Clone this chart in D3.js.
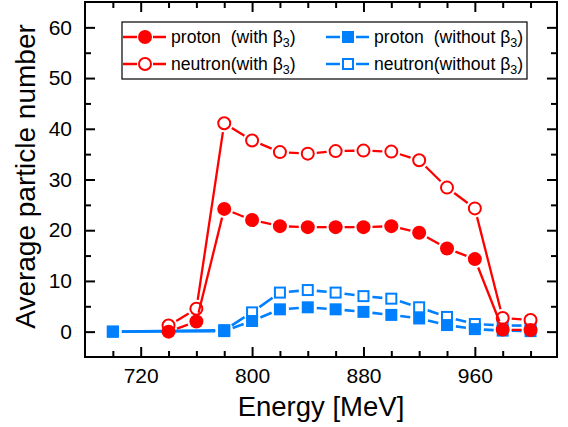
<!DOCTYPE html>
<html><head><meta charset="utf-8">
<script src="https://cdn.jsdelivr.net/npm/d3@7"></script>
<style>
body{margin:0;background:#fff}
svg{display:block}
text{font-family:"Liberation Sans",Arial,sans-serif;fill:#000}
</style>
</head><body>
<svg id="chart" width="568" height="427"></svg>
<script>
// ---- data ----
const energyWith = [740, 760, 780, 800, 820, 840, 860, 880, 900, 920, 940, 960, 980, 1000];
const protonWith = [0.0, 2.0, 24.2, 22.0, 20.8, 20.6, 20.6, 20.6, 20.8, 19.5, 16.4, 14.3, 0.4, 0.3];
const neutronWith = [1.2, 4.5, 41.1, 37.7, 35.4, 35.1, 35.6, 35.7, 35.5, 33.8, 28.4, 24.3, 2.7, 2.3];
const energyWithout = [700, 780, 800, 820, 840, 860, 880, 900, 920, 940, 960, 980, 1000];
const protonWithout = [0.0, 0.1, 2.1, 4.4, 4.8, 4.4, 3.9, 3.3, 2.6, 1.3, 0.5, 0.2, 0.1];
const neutronWithout = [0.0, 0.3, 3.8, 7.7, 8.2, 7.7, 7.0, 6.5, 4.8, 2.9, 1.5, 1.2, 1.2];

const xMajorTicks = [720, 800, 880, 960];
const xMinorTicks = [700, 740, 760, 780, 820, 840, 860, 900, 920, 940, 980, 1000];
const yMajorTicks = [0, 10, 20, 30, 40, 50, 60];
const yMinorTicks = [5, 15, 25, 35, 45, 55];

const xLabel = "Energy [MeV]";
const yLabel = "Average particle number";

const RED = "#ff0000", BLUE = "#0080ff";

const series = [
  {name: "neutron(without ", x: energyWithout, y: neutronWithout, color: BLUE, shape: "square", filled: false},
  {name: "proton  (without ", x: energyWithout, y: protonWithout, color: BLUE, shape: "square", filled: true},
  {name: "neutron(with ", x: energyWith, y: neutronWith, color: RED, shape: "circle", filled: false},
  {name: "proton  (with ", x: energyWith, y: protonWith, color: RED, shape: "circle", filled: true}
];

// ---- layout ----
const svg = d3.select("#chart");
const x = d3.scaleLinear().domain([680, 1019]).range([85, 557]);
const y = d3.scaleLinear().domain([-5, 65]).range([357, 2]);
const X0 = x.range()[0], X1 = x.range()[1], Y0 = y.range()[0], Y1 = y.range()[1];

function styleAxis(g) {
  g.select(".domain").remove();
  g.selectAll(".tick line").attr("stroke", "#000").attr("stroke-width", 2);
  g.selectAll("text").style("font-size", "21px").attr("fill", "#000");
}
// bottom
svg.append("g").attr("transform", `translate(0,${Y0})`)
  .call(d3.axisBottom(x).tickValues(xMajorTicks).tickSize(-10).tickPadding(11).tickFormat(d3.format("d"))).call(styleAxis);
svg.append("g").attr("transform", `translate(0,${Y0})`)
  .call(d3.axisBottom(x).tickValues(xMinorTicks).tickSize(-6).tickFormat("")).call(styleAxis);
// top
svg.append("g").attr("transform", `translate(0,${Y1})`)
  .call(d3.axisTop(x).tickValues(xMajorTicks).tickSize(-10).tickFormat("")).call(styleAxis);
svg.append("g").attr("transform", `translate(0,${Y1})`)
  .call(d3.axisTop(x).tickValues(xMinorTicks).tickSize(-6).tickFormat("")).call(styleAxis);
// left
svg.append("g").attr("transform", `translate(${X0},0)`)
  .call(d3.axisLeft(y).tickValues(yMajorTicks).tickSize(-10).tickPadding(13).tickFormat(d3.format("d"))).call(styleAxis);
svg.append("g").attr("transform", `translate(${X0},0)`)
  .call(d3.axisLeft(y).tickValues(yMinorTicks).tickSize(-6).tickFormat("")).call(styleAxis);
// right
svg.append("g").attr("transform", `translate(${X1},0)`)
  .call(d3.axisRight(y).tickValues(yMajorTicks).tickSize(-10).tickFormat("")).call(styleAxis);
svg.append("g").attr("transform", `translate(${X1},0)`)
  .call(d3.axisRight(y).tickValues(yMinorTicks).tickSize(-6).tickFormat("")).call(styleAxis);

// frame
svg.append("rect").attr("x", X0).attr("y", Y1).attr("width", X1 - X0).attr("height", Y0 - Y1)
  .attr("fill", "none").attr("stroke", "#000").attr("stroke-width", 2);

// axis titles
svg.append("text").attr("x", (X0 + X1) / 2).attr("y", 416).attr("text-anchor", "middle")
  .style("font-size", "27.5px").text(xLabel);
svg.append("text").attr("transform", `translate(35,${(Y0 + Y1) / 2 - 3}) rotate(-90)`).attr("text-anchor", "middle")
  .style("font-size", "28px").text(yLabel);

// ---- marks ----
const CR = 7, SQ = 12, GAP = 2;
function drawMarker(g, cx, cy, s) {
  if (s.shape === "circle") {
    if (s.filled) g.append("circle").attr("cx", cx).attr("cy", cy).attr("r", CR).attr("fill", s.color);
    else g.append("circle").attr("cx", cx).attr("cy", cy).attr("r", CR - 1).attr("fill", "#fff").attr("stroke", s.color).attr("stroke-width", 2);
  } else {
    if (s.filled) g.append("rect").attr("x", cx - SQ / 2).attr("y", cy - SQ / 2).attr("width", SQ).attr("height", SQ).attr("fill", s.color);
    else g.append("rect").attr("x", cx - SQ / 2 + 1).attr("y", cy - SQ / 2 + 1).attr("width", SQ - 2).attr("height", SQ - 2).attr("fill", "#fff").attr("stroke", s.color).attr("stroke-width", 2);
  }
}
function markerExtent(s) { return (s.shape === "circle" ? CR : SQ / 2 + 1) + GAP; }

const plot = svg.append("g");
series.forEach(s => {
  const g = plot.append("g");
  const pts = s.x.map((v, i) => [x(v), y(s.y[i])]);
  const ext = markerExtent(s);
  for (let i = 0; i < pts.length - 1; i++) {
    const [ax, ay] = pts[i], [bx, by] = pts[i + 1];
    const dx = bx - ax, dy = by - ay, L = Math.hypot(dx, dy);
    if (L <= 2 * ext) continue;
    const ux = dx / L, uy = dy / L;
    g.append("line").attr("x1", ax + ux * ext).attr("y1", ay + uy * ext)
      .attr("x2", bx - ux * ext).attr("y2", by - uy * ext)
      .attr("stroke", s.color).attr("stroke-width", s.color === BLUE ? 2.6 : 2.3);
  }
  pts.forEach(p => drawMarker(g, p[0], p[1], s));
});

// ---- legend ----
const leg = svg.append("g");
leg.append("rect").attr("x", 122).attr("y", 22).attr("width", 405).attr("height", 57)
  .attr("fill", "#fff").attr("stroke", "#000").attr("stroke-width", 1.2);
const legendItems = [
  {s: series[3], col: 0, row: 0},
  {s: series[2], col: 0, row: 1},
  {s: series[1], col: 1, row: 0},
  {s: series[0], col: 1, row: 1}
];
const colX = [123, 326], rowY = [37, 64];
legendItems.forEach(it => {
  const lx = colX[it.col], ly = rowY[it.row], s = it.s;
  const mx = lx + 22, ext = markerExtent(s);
  leg.append("line").attr("x1", lx).attr("y1", ly).attr("x2", mx - ext + 1).attr("y2", ly)
    .attr("stroke", s.color).attr("stroke-width", 2.5);
  leg.append("line").attr("x1", mx + ext - 1).attr("y1", ly).attr("x2", lx + 43).attr("y2", ly)
    .attr("stroke", s.color).attr("stroke-width", 2.5);
  drawMarker(leg, mx, ly, s);
  const t = leg.append("text").attr("x", lx + 48).attr("y", ly + 6).style("font-size", "17.6px")
    .attr("xml:space", "preserve").style("white-space", "pre");
  t.append("tspan").text(s.name + "\u03B2");
  t.append("tspan").attr("dy", 4).style("font-size", "12.5px").text("3");
  t.append("tspan").attr("dy", -4).text(")");
});
</script>
</body></html>
